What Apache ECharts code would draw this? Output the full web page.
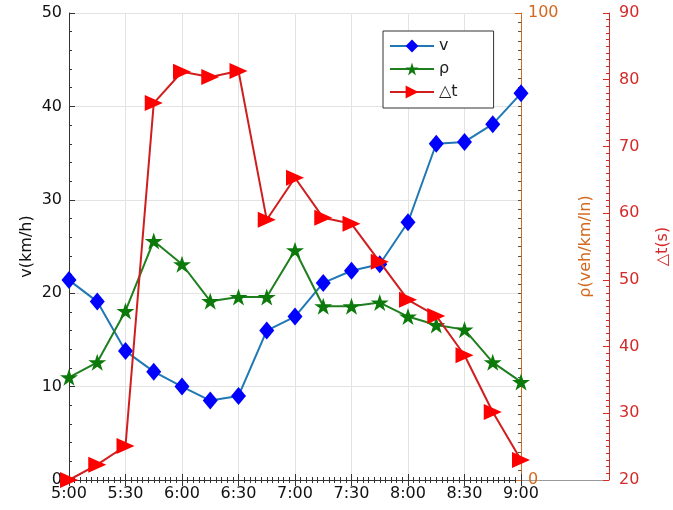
<!DOCTYPE html>
<html>
<head>
<meta charset="utf-8">
<script src="https://cdn.jsdelivr.net/npm/echarts@6/dist/echarts.min.js"></script>
<style>
html,body{margin:0;padding:0;background:#fff;overflow:hidden;}
#c{width:673px;height:510px;}
</style>
</head>
<body>
<div id="c"></div>
<script>
const times = ['5:00','5:15','5:30','5:45','6:00','6:15','6:30','6:45','7:00','7:15','7:30','7:45','8:00','8:15','8:30','8:45','9:00'];
const vData = [21.4,19.1,13.8,11.6,10.0,8.5,9.0,16.0,17.5,21.1,22.4,23.1,27.6,36.0,36.2,38.1,41.4];
const rhoData = [22.0,25.2,36.2,51.2,46.2,38.3,39.2,39.2,49.2,37.2,37.2,38.0,35.0,33.2,32.2,25.2,21.0];
const dtData = [20.0,22.3,25.1,76.5,81.2,80.4,81.3,59.0,65.3,59.3,58.4,52.7,47.0,44.6,38.7,30.2,23.0];
const xTickLabels = ['5:00','5:30','6:00','6:30','7:00','7:30','8:00','8:30','9:00'];
const seriesNames = ['v','ρ','△t'];

function toMin(t){const p=t.split(':');return (+p[0])*60+(+p[1]);}
const xs = times.map(toMin);
const pairs = arr => arr.map((v,i)=>[xs[i],v]);

const FONT = "'DejaVu Sans', 'Liberation Sans', Arial, sans-serif";
const ORANGE = '#D2691E';
const RED = '#D42A2A';
const STAR = 'path://M50,0 L61.2,34.5 L97.6,34.5 L68.2,55.9 L79.4,90.5 L50,69.1 L20.6,90.5 L31.8,55.9 L2.4,34.5 L38.8,34.5 Z';

const chart = echarts.init(document.getElementById('c'), null, {renderer:'canvas'});
chart.setOption({
  backgroundColor:'#fff',
  animation:false,
  textStyle:{fontFamily:FONT},
  grid:{left:69,right:152,top:13,bottom:30,containLabel:false,outerBoundsMode:'none'},
  legend:{
    orient:'vertical', left:383, top:31,
    backgroundColor:'#fff', borderColor:'#333', borderWidth:1,
    padding:[7,36,8,6], itemWidth:44, itemHeight:16, itemGap:7,
    textStyle:{fontSize:16,color:'#222',fontFamily:FONT},
    data:seriesNames
  },
  xAxis:[{
    type:'value', min:300, max:540, interval:30, position:'bottom',
    axisLine:{lineStyle:{color:'#333',width:1}},
    axisTick:{inside:true,length:6,lineStyle:{color:'#333'}},
    minorTick:{show:true,splitNumber:10,length:3,lineStyle:{color:'#333'}},
    axisLabel:{fontSize:16,color:'#111',margin:6,fontFamily:FONT,
      formatter:v=>xTickLabels[Math.round((v-300)/30)]||''},
    splitLine:{show:true,lineStyle:{color:'#e3e3e3',width:1}}
  },{
    type:'value', min:300, max:540, interval:30, position:'top',
    axisLine:{lineStyle:{color:'#333',width:1}},
    axisTick:{inside:true,length:6,lineStyle:{color:'#333'}},
    minorTick:{show:true,splitNumber:10,length:3,lineStyle:{color:'#333'}},
    axisLabel:{show:false}, splitLine:{show:false}
  }],
  yAxis:[{
    type:'value', min:0, max:50, interval:10, position:'left',
    name:'v(km/h)', nameLocation:'middle', nameGap:34, nameRotate:90, nameMoveOverlap:false,
    nameTextStyle:{fontSize:16,color:'#111',fontFamily:FONT},
    axisLine:{show:true,lineStyle:{color:'#333',width:1}},
    axisTick:{show:true,inside:true,length:6,lineStyle:{color:'#333'}},
    minorTick:{show:true,splitNumber:5,length:3,lineStyle:{color:'#333'}},
    axisLabel:{fontSize:16,color:'#111',margin:7,fontFamily:FONT},
    splitLine:{show:true,lineStyle:{color:'#e3e3e3',width:1}}
  },{
    type:'value', min:0, max:100, interval:100, position:'right',
    name:'ρ(veh/km/ln)', nameLocation:'middle', nameGap:57, nameRotate:90, nameMoveOverlap:false,
    nameTextStyle:{fontSize:16,color:ORANGE,fontFamily:FONT},
    axisLine:{show:true,lineStyle:{color:ORANGE,width:1}},
    axisTick:{show:true,inside:true,length:6,lineStyle:{color:ORANGE}},
    minorTick:{show:true,splitNumber:50,length:3,lineStyle:{color:'#555'}},
    axisLabel:{fontSize:16,color:ORANGE,margin:7,fontFamily:FONT},
    splitLine:{show:false}
  },{
    type:'value', min:20, max:90, interval:10, position:'right', offset:88,
    name:'△t(s)', nameLocation:'middle', nameGap:46, nameRotate:90, nameMoveOverlap:false,
    nameTextStyle:{fontSize:16,color:RED,fontFamily:FONT},
    axisLine:{show:true,lineStyle:{color:RED,width:1}},
    axisTick:{show:true,inside:true,length:6,lineStyle:{color:RED}},
    minorTick:{show:true,splitNumber:10,length:3,lineStyle:{color:RED}},
    axisLabel:{fontSize:16,color:RED,margin:10,fontFamily:FONT},
    splitLine:{show:false}
  }],
  graphic:[{
    type:'line', shape:{x1:521,y1:480.5,x2:609,y2:480.5},
    style:{stroke:'#999',lineWidth:1}, z:0
  }],
  series:[{
    name:seriesNames[0], type:'line', xAxisIndex:0, yAxisIndex:0,
    data:pairs(vData), symbol:'diamond', symbolSize:[15,18],
    lineStyle:{color:'#1f78b4',width:2},
    itemStyle:{color:'#0000ff'}, color:'#1f78b4', z:3
  },{
    name:seriesNames[1], type:'line', xAxisIndex:0, yAxisIndex:1,
    data:pairs(rhoData), symbol:STAR, symbolSize:[18,17],
    lineStyle:{color:'#1f7f1f',width:2},
    itemStyle:{color:'#0b7a0b'}, color:'#1f7f1f', z:4
  },{
    name:seriesNames[2], type:'line', xAxisIndex:0, yAxisIndex:2,
    data:pairs(dtData), symbol:'triangle', symbolSize:[16,18], symbolRotate:-90,
    lineStyle:{color:'#d01e1e',width:2},
    itemStyle:{color:'#ff0000'}, color:'#d01e1e', z:5
  }]
});
</script>
</body>
</html>
